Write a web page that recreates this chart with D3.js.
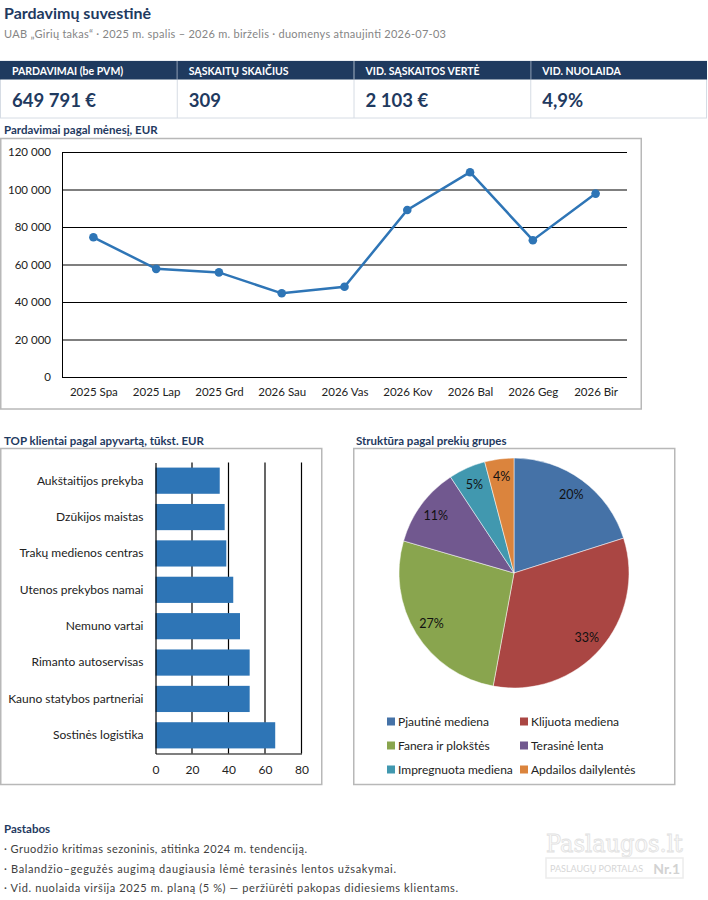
<!DOCTYPE html>
<html>
<head>
<meta charset="utf-8">
<script src="https://cdn.jsdelivr.net/npm/d3@7"></script>
<style>
  html, body { margin: 0; padding: 0; background: #fff; }
  svg { display: block; font-family: Lato, "Open Sans", sans-serif; }
</style>
</head>
<body>
<div id="page"></div>
<script>
// ---- data ----
const kpiLabels = ['PARDAVIMAI (be PVM)', 'SĄSKAITŲ SKAIČIUS', 'VID. SĄSKAITOS VERTĖ', 'VID. NUOLAIDA'];
const kpiValues = ['649 791 €', '309', '2 103 €', '4,9%'];

const months = ['2025 Spa', '2025 Lap', '2025 Grd', '2026 Sau', '2026 Vas', '2026 Kov', '2026 Bal', '2026 Geg', '2026 Bir'];
const sales = [74520, 57680, 55790, 44630, 48110, 89050, 109240, 72960, 97811];
const salesTicks = [0, 20000, 40000, 60000, 80000, 100000, 120000];

const clients = ['Aukštaitijos prekyba', 'Dzūkijos maistas', 'Trakų medienos centras', 'Utenos prekybos namai',
                 'Nemuno vartai', 'Rimanto autoservisas', 'Kauno statybos partneriai', 'Sostinės logistika'];
const clientTurnover = [35.2, 37.9, 38.8, 42.6, 46.3, 51.6, 51.6, 65.6];
const turnoverTicks = [0, 20, 40, 60, 80];

const groups = ['Pjautinė mediena', 'Klijuota mediena', 'Fanera ir plokštės', 'Terasinė lenta', 'Impregnuota mediena', 'Apdailos dailylentės'];
const groupShares = [20.1, 32.8, 26.6, 11.2, 5.2, 4.1];

const notes = [
  '· Gruodžio kritimas sezoninis, atitinka 2024 m. tendenciją.',
  '· Balandžio–gegužės augimą daugiausia lėmė terasinės lentos užsakymai.',
  '· Vid. nuolaida viršija 2025 m. planą (5 %) — peržiūrėti pakopas didiesiems klientams.'
];

// ---- styling ----
const W = 708, H = 900;
const navy = '#1f3a5f', blue = '#2e75b6', boxStroke = '#b8b8b8', ink = '#222';
const pieColors = ['#4572a7', '#aa4643', '#89a54e', '#71588f', '#4198af', '#db843d'];
const lt = d3.formatLocale({ decimal: ',', thousands: ' ', grouping: [3], currency: ['', ' €'] });
const fmtThousands = lt.format(',.0f');

const svg = d3.select('#page').append('svg')
    .attr('width', W).attr('height', H)
    .attr('viewBox', `0 0 ${W} ${H}`);

// Header
svg.append('text').attr('x', 4).attr('y', 19)
    .attr('fill', navy).style('font-size', '16px').style('font-weight', 700)
    .text('Pardavimų suvestinė');
svg.append('text').attr('x', 4).attr('y', 38)
    .attr('fill', '#858585').style('font-size', '11px')
    .attr('textLength', 442).attr('lengthAdjust', 'spacing')
    .text('UAB „Girių takas“ · 2025 m. spalis – 2026 m. birželis · duomenys atnaujinti 2026-07-03');

// KPI table
const kpiX = d3.scaleBand(d3.range(kpiLabels.length), [0, 707]);
const kpi = svg.append('g');
kpi.append('rect').attr('x', 0.5).attr('y', 61).attr('width', 706).attr('height', 57)
    .attr('fill', '#fff').attr('stroke', '#d6dce4');
kpi.append('rect').attr('x', 0).attr('y', 61).attr('width', 707).attr('height', 18.5).attr('fill', navy);
const cells = kpi.selectAll('g.cell').data(kpiLabels).join('g').attr('class', 'cell')
    .attr('transform', (d, i) => `translate(${kpiX(i)},0)`);
cells.filter((d, i) => i > 0).append('line')
    .attr('x1', 0.5).attr('x2', 0.5).attr('y1', 61).attr('y2', 118)
    .attr('stroke', '#d6dce4');
cells.filter((d, i) => i > 0).append('line')
    .attr('x1', 0.5).attr('x2', 0.5).attr('y1', 61).attr('y2', 79.5)
    .attr('stroke', '#4a6282');
cells.append('text').attr('x', 12).attr('y', 74.5)
    .attr('fill', '#fff').style('font-size', '10.5px').style('font-weight', 700)
    .text(d => d);
cells.append('text').attr('x', 12).attr('y', 106.5)
    .attr('fill', navy).style('font-size', '18.5px').style('font-weight', 700)
    .text((d, i) => kpiValues[i]);

// Section titles
const sectionTitle = (x, y, t) => svg.append('text').attr('x', x).attr('y', y)
    .attr('fill', navy).style('font-size', '11.5px').style('font-weight', 700).text(t);
sectionTitle(4, 134, 'Pardavimai pagal mėnesį, EUR');
sectionTitle(4, 445, 'TOP klientai pagal apyvartą, tūkst. EUR');
sectionTitle(356, 445, 'Struktūra pagal prekių grupes');

// ---- line chart ----
svg.append('rect').attr('x', 0.75).attr('y', 138.5).attr('width', 640.5).attr('height', 270.5)
    .attr('fill', 'none').attr('stroke', boxStroke).attr('stroke-width', 1.5);

const lx = d3.scalePoint(months, [62, 627]).padding(0.5);
const ly = d3.scaleLinear([0, 120000], [377, 152]);

const gy = svg.append('g').attr('transform', 'translate(62,0)')
    .call(d3.axisLeft(ly).tickValues(salesTicks).tickSize(-565).tickPadding(11).tickFormat(fmtThousands));
gy.select('.domain').attr('stroke', '#000');
gy.selectAll('.tick line').attr('stroke', '#000').attr('stroke-width', 1.2);
gy.selectAll('.tick text').attr('fill', ink).style('font-size', '11.5px').style('font-family', 'Lato, sans-serif');

const gx = svg.append('g').attr('transform', 'translate(0,377)')
    .call(d3.axisBottom(lx).tickSize(0).tickPadding(11));
gx.select('.domain').remove();
gx.selectAll('.tick text').attr('fill', ink).style('font-size', '11.5px').style('font-family', 'Lato, sans-serif');

svg.append('path').datum(sales)
    .attr('fill', 'none').attr('stroke', blue).attr('stroke-width', 2.5)
    .attr('d', d3.line().x((d, i) => lx(months[i])).y(d => ly(d)));
svg.selectAll('circle.pt').data(sales).join('circle').attr('class', 'pt')
    .attr('cx', (d, i) => lx(months[i])).attr('cy', d => ly(d)).attr('r', 4.3)
    .attr('fill', blue);

// ---- bar chart ----
svg.append('rect').attr('x', 0.75).attr('y', 448.5).attr('width', 321).attr('height', 336)
    .attr('fill', 'none').attr('stroke', boxStroke).attr('stroke-width', 1.5);

const bx = d3.scaleLinear([0, 80], [155.5, 301.5]);
const by = d3.scaleBand(clients, [462.5, 753.5]).paddingInner(0.28).paddingOuter(0.14);

svg.append('g').selectAll('line').data(turnoverTicks.slice(1)).join('line')
    .attr('x1', d => bx(d)).attr('x2', d => bx(d)).attr('y1', 462.5).attr('y2', 753.5)
    .attr('stroke', '#000').attr('stroke-width', 1.2);

svg.selectAll('rect.bar').data(clientTurnover).join('rect').attr('class', 'bar')
    .attr('x', bx(0)).attr('y', (d, i) => by(clients[i]))
    .attr('width', d => bx(d) - bx(0)).attr('height', by.bandwidth())
    .attr('fill', blue);

const gbx = svg.append('g').attr('transform', 'translate(0,753.5)')
    .call(d3.axisBottom(bx).tickValues(turnoverTicks).tickSize(0).tickPadding(12));
gbx.select('.domain').attr('stroke', '#000').attr('stroke-width', 1.2);
gbx.selectAll('.tick text').attr('fill', ink).style('font-size', '12px').style('font-family', 'Lato, sans-serif');

const gby = svg.append('g').attr('transform', `translate(${bx(0)},0)`)
    .call(d3.axisLeft(by).tickSize(0).tickPadding(12));
gby.select('.domain').attr('stroke', '#000').attr('stroke-width', 1.2);
gby.selectAll('.tick text').attr('fill', ink).style('font-size', '12px').style('font-family', 'Lato, sans-serif');

// ---- pie chart ----
svg.append('rect').attr('x', 353.75).attr('y', 448.5).attr('width', 321).attr('height', 336)
    .attr('fill', 'none').attr('stroke', boxStroke).attr('stroke-width', 1.5);

const pie = d3.pie().sort(null)(groupShares);
const arc = d3.arc().innerRadius(0).outerRadius(115);
const labelArc = d3.arc().innerRadius(97).outerRadius(97);
const pg = svg.append('g').attr('transform', 'translate(514,573)');
pg.selectAll('path').data(pie).join('path')
    .attr('d', arc).attr('fill', (d, i) => pieColors[i])
    .attr('stroke', '#fff').attr('stroke-width', 0.5);
pg.selectAll('text').data(pie).join('text')
    .attr('transform', d => `translate(${labelArc.centroid(d)})`)
    .attr('text-anchor', 'middle').attr('dy', '0.35em')
    .attr('fill', '#111').style('font-size', '12.5px')
    .text(d => Math.round(d.data) + '%');

// legend
const legX = d3.scaleOrdinal([0, 1], [387, 520]);
const leg = svg.append('g').selectAll('g').data(groups).join('g')
    .attr('transform', (d, i) => `translate(${legX(i % 2)},${722 + Math.floor(i / 2) * 24})`);
leg.append('rect').attr('x', 0).attr('y', -4.5).attr('width', 8).attr('height', 8)
    .attr('fill', (d, i) => pieColors[i]);
leg.append('text').attr('x', 11).attr('dy', '0.35em')
    .attr('fill', ink).style('font-size', '12px').text(d => d);

// ---- notes ----
svg.append('text').attr('x', 4).attr('y', 833)
    .attr('fill', navy).style('font-size', '11.5px').style('font-weight', 700).text('Pastabos');
const noteWidths = [303, 392, 454];
svg.append('g').selectAll('text').data(notes).join('text')
    .attr('x', 4).attr('y', (d, i) => 853 + i * 19.5)
    .attr('fill', '#404040').style('font-size', '11px')
    .attr('textLength', (d, i) => noteWidths[i]).attr('lengthAdjust', 'spacing')
    .text(d => d);

// watermark
const wm = svg.append('g');
wm.append('text').attr('x', 546).attr('y', 852)
    .attr('fill', '#fbfbfb').attr('stroke', '#e2e2e2').attr('stroke-width', 0.8)
    .style('font-family', '"DejaVu Serif Condensed", "DejaVu Serif", serif').style('font-size', '25px')
    .text('Paslaugos.lt');
wm.append('rect').attr('x', 546).attr('y', 858).attr('width', 137).attr('height', 20)
    .attr('fill', 'none').attr('stroke', '#ececec').attr('stroke-width', 1.5);
wm.append('text').attr('x', 550).attr('y', 872)
    .attr('fill', '#d6d6d6').style('font-size', '9px').text('PASLAUGŲ PORTALAS');
wm.append('text').attr('x', 680).attr('y', 874).attr('text-anchor', 'end')
    .attr('fill', '#d2d2d2').style('font-size', '14px').style('font-weight', 700).text('Nr.1');
</script>
</body>
</html>
